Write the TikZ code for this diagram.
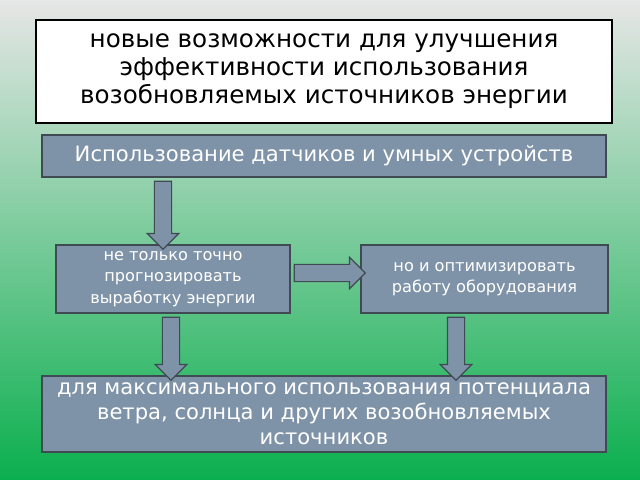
\documentclass[tikz,border=0pt]{standalone}
\usepackage{fontspec}
\setmainfont{DejaVu Sans}
\usetikzlibrary{shapes.arrows}
\definecolor{boxfill}{HTML}{7F93A8}
\definecolor{boxline}{HTML}{3F4A55}
\definecolor{bgtop}{HTML}{E6E6E6}
\definecolor{bgbot}{HTML}{0BAF4E}
\tikzset{
  box/.style={draw=boxline, line width=1pt, fill=boxfill, text=white, align=center, inner sep=2pt},
  arr/.style={single arrow, draw=boxline, line width=0.8pt, fill=boxfill, single arrow head extend=0.18cm, inner xsep=0pt, inner ysep=0.2cm, single arrow tip angle=90}
}
\begin{document}
\begin{tikzpicture}[x=0.025cm,y=-0.025cm]
  \shade[top color=bgtop, bottom color=bgbot] (0,0) rectangle (640,480);
  \useasboundingbox (0,0) rectangle (640,480);

  % boxes
  \node[draw=black, line width=0.8pt, fill=white, align=center, minimum width=576*0.025cm, minimum height=103*0.025cm, font=\fontsize{17.5}{20}\selectfont] (goal) at (324,71.5)
    {новые возможности для улучшения\\эффективности использования\\возобновляемых источников энергии};
  \node[box, minimum width=564*0.025cm, minimum height=42*0.025cm, font=\fontsize{15}{18}\selectfont] (sensors) at (324,156)
    {Использование датчиков и умных устройств};
  \node[box, minimum width=234*0.025cm, minimum height=68*0.025cm, font=\fontsize{11.5}{15.3}\selectfont] (forecast) at (173,279)
    {не только точно\\прогнозировать\\выработку энергии};
  \node[box, minimum width=247*0.025cm, minimum height=68*0.025cm, font=\fontsize{11.5}{15.3}\selectfont] (optim) at (484.5,279)
    {но и оптимизировать\\работу оборудования};
  \node[box, minimum width=564*0.025cm, minimum height=76*0.025cm, font=\fontsize{15}{17.8}\selectfont] (result) at (324,414)
    {для максимального использования потенциала\\ветра, солнца и других возобновляемых\\источников};

  % arrows
  \node[arr, rotate=-90, minimum height=68*0.025cm] (a1) at (163,211) {};
  \node[arr, minimum height=71*0.025cm] (a2) at (325.5,273) {};
  \node[arr, rotate=-90, minimum height=63*0.025cm] (a3) at (171,344.5) {};
  \node[arr, rotate=-90, minimum height=63*0.025cm] (a4) at (456,344.5) {};
\end{tikzpicture}
\end{document}
